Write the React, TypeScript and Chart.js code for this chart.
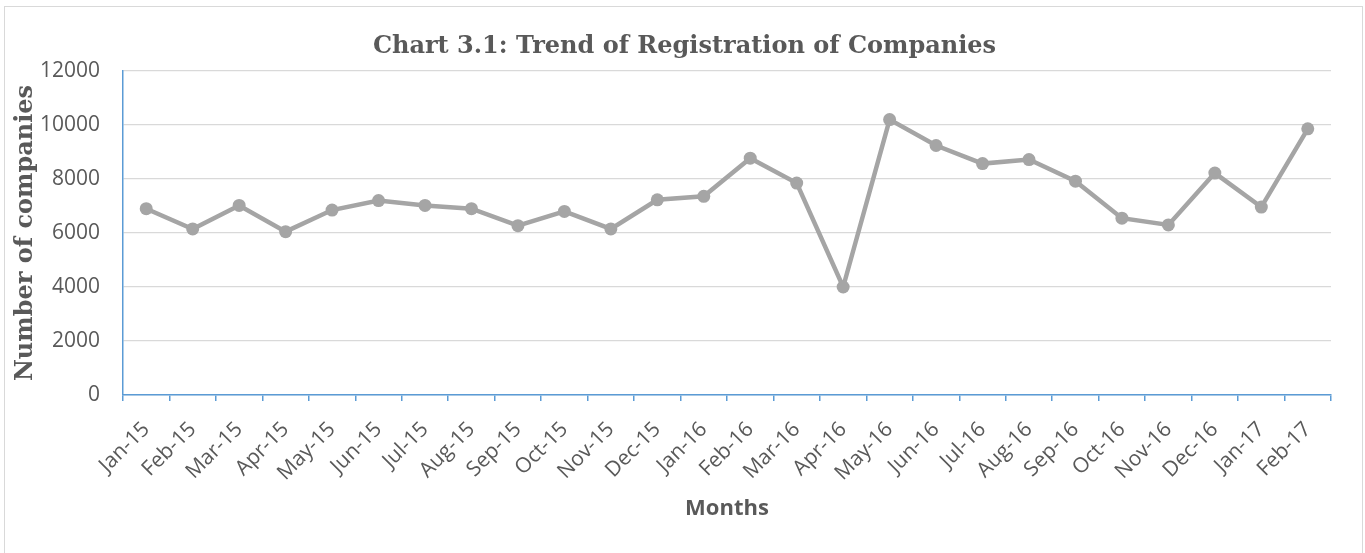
import React, { useEffect, useRef } from "react";
import { Chart, registerables } from "chart.js";

Chart.register(...registerables);

const months = [
  "Jan-15", "Feb-15", "Mar-15", "Apr-15", "May-15", "Jun-15", "Jul-15", "Aug-15",
  "Sep-15", "Oct-15", "Nov-15", "Dec-15", "Jan-16", "Feb-16", "Mar-16", "Apr-16",
  "May-16", "Jun-16", "Jul-16", "Aug-16", "Sep-16", "Oct-16", "Nov-16", "Dec-16",
  "Jan-17", "Feb-17",
];

const registrations = [
  6900, 6150, 7020, 6050, 6850, 7200, 7020, 6900,
  6270, 6800, 6150, 7230, 7360, 8770, 7850, 4000,
  10200, 9240, 8570, 8720, 7920, 6550, 6300, 8220,
  6960, 9860,
];

const yMin = 0;
const yMax = 12000;
const yStep = 2000;

const chartTitle = "Chart 3.1: Trend of Registration of Companies";
const xTitle = "Months";
const yTitle = "Number of companies";

export default function App() {
  const canvasRef = useRef<HTMLCanvasElement | null>(null);

  useEffect(() => {
    if (!canvasRef.current) return;
    const textColor = "#595959";
    const axisBlue = "#5b9bd5";
    const chart = new Chart(canvasRef.current, {
      type: "line",
      data: {
        labels: months,
        datasets: [
          {
            label: "Companies",
            data: registrations,
            borderColor: "#a5a5a5",
            backgroundColor: "#a5a5a5",
            borderWidth: 4.5,
            pointRadius: 6.5,
            pointHoverRadius: 6.5,
            pointBackgroundColor: "#a5a5a5",
            pointBorderWidth: 0,
            tension: 0,
          },
        ],
      },
      options: {
        responsive: false,
        animation: false,
        layout: { padding: { left: 38, right: 34, top: 0, bottom: 0 } },
        plugins: {
          legend: { display: false },
          tooltip: { enabled: false },
          title: {
            display: true,
            text: chartTitle,
            color: textColor,
            font: { family: "'DejaVu Serif', serif", size: 24, weight: "bold" },
            padding: { top: 32, bottom: 10.2 },
          },
        },
        scales: {
          x: {
            type: "category",
            offset: true,
            grid: {
              display: true,
              offset: true,
              drawOnChartArea: false,
              drawTicks: true,
              tickLength: 6,
              color: axisBlue,
              lineWidth: 1.5,
            },
            border: { display: true, color: axisBlue, width: 1.5 },
            ticks: {
              color: textColor,
              font: { family: "'Open Sans', sans-serif", size: 21 },
              minRotation: 45,
              maxRotation: 45,
              autoSkip: false,
              padding: 16,
            },
            title: {
              display: true,
              text: xTitle,
              color: textColor,
              font: { family: "'Open Sans', sans-serif", size: 22, weight: "bold" },
              padding: { top: 0, bottom: 31 },
            },
            afterFit: (scale: any) => {
              scale.height = 158;
            },
          },
          y: {
            min: yMin,
            max: yMax,
            ticks: {
              stepSize: yStep,
              color: textColor,
              font: { family: "'Open Sans', sans-serif", size: 21 },
              padding: 23,
              callback: (v: any) => String(v),
            },
            grid: {
              color: "#d9d9d9",
              lineWidth: 1.3,
              drawTicks: false,
            },
            border: { display: true, color: axisBlue, width: 1.5 },
            title: {
              display: true,
              text: yTitle,
              color: textColor,
              font: { family: "'DejaVu Serif', serif", size: 24, weight: "bold" },
              padding: { top: -26.4, bottom: 0 },
            },
            afterFit: (scale: any) => {
              scale.width = 85;
            },
          },
        },
      },
    });
    return () => chart.destroy();
  }, []);

  return (
    <div style={{ position: "fixed", left: 0, top: 0, width: 1365, height: 553, background: "#ffffff", overflow: "hidden" }}>
      <div
        style={{
          position: "absolute",
          left: 4,
          top: 6,
          width: 1359,
          height: 570,
          border: "1px solid #d9d9d9",
          boxSizing: "border-box",
        }}
      />
      <canvas ref={canvasRef} width={1365} height={553} style={{ position: "absolute", left: 0, top: 0 }} />
    </div>
  );
}
